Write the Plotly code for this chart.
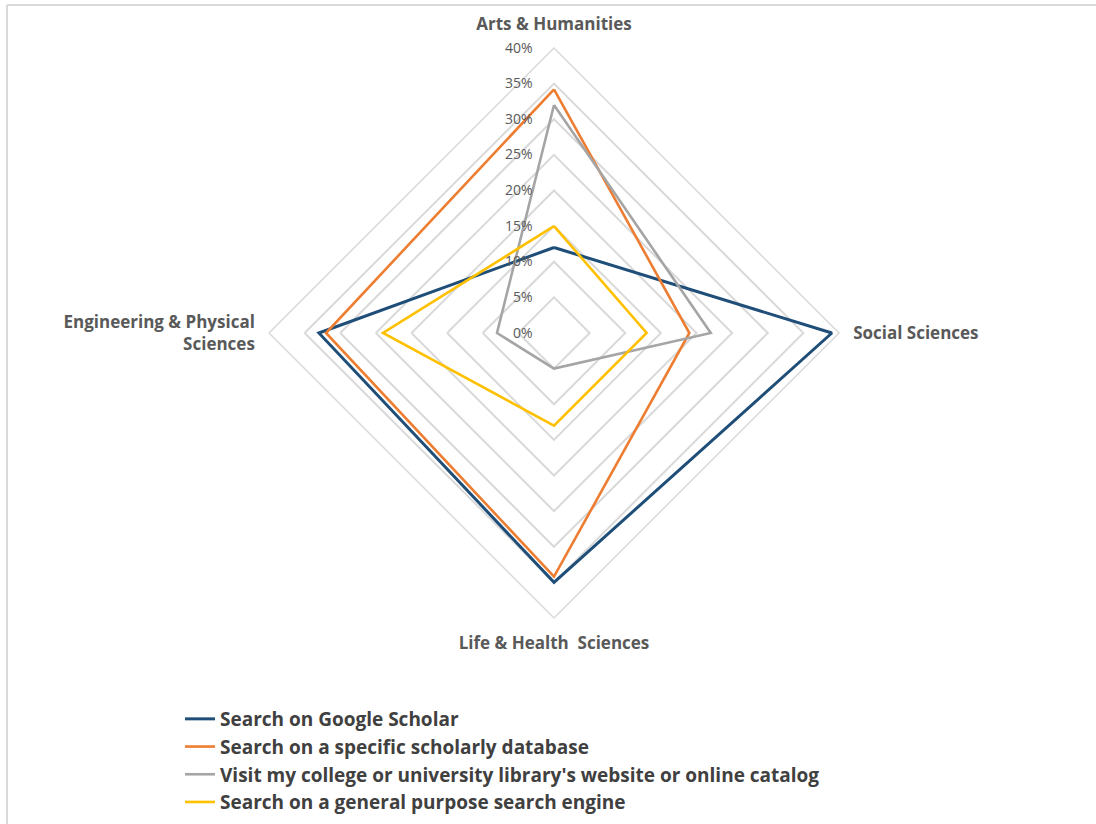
import plotly.graph_objects as go

# Disciplines around the radar, clockwise from the top
disciplines = [
    "Arts & Humanities",
    "Social Sciences",
    "Life & Health  Sciences",
    "Engineering & Physical<br>Sciences",
]

# Share of respondents per discipline (fractions)
google_scholar = [0.12, 0.39, 0.35, 0.33]
scholarly_database = [0.342, 0.19, 0.342, 0.32]
library_website = [0.32, 0.22, 0.05, 0.08]
general_search_engine = [0.15, 0.13, 0.13, 0.24]

series_names = [
    "Search on Google Scholar",
    "Search on a specific scholarly database",
    "Visit my college or university library's website or online catalog",
    "Search on a general purpose search engine",
]

radial_ticks = [0, 0.05, 0.10, 0.15, 0.20, 0.25, 0.30, 0.35, 0.40]
radial_tick_labels = ["0%", "5%", "10%", "15%", "20%", "25%", "30%", "35%", "40%"]

colors = ["#1f4e79", "#ed7d31", "#a5a5a5", "#ffc000"]
widths = [3, 2.6, 2.6, 2.6]

fig = go.Figure()
for i, (name, vals, col, w) in enumerate(zip(
    series_names,
    [google_scholar, scholarly_database, library_website, general_search_engine],
    colors,
    widths,
)):
    fig.add_trace(
        go.Scatterpolar(
            r=vals + vals[:1],
            theta=disciplines + disciplines[:1],
            mode="lines",
            name=name,
            legendgroup=f"g{i}",
            line=dict(color=col, width=w),
        )
    )

W, H = 1096, 824
cx, cy, rad = 554, 333, 285
FONT = "Open Sans"

fig.update_layout(
    width=W,
    height=H,
    margin=dict(l=0, r=0, t=0, b=0),
    paper_bgcolor="white",
    plot_bgcolor="white",
    font=dict(family=FONT, color="#595959"),
    polar=dict(
        domain=dict(
            x=[(cx - rad) / W, (cx + rad) / W],
            y=[(H - cy - rad) / H, (H - cy + rad) / H],
        ),
        gridshape="linear",
        bgcolor="white",
        radialaxis=dict(
            range=[0, 0.4],
            tickvals=radial_ticks,
            ticktext=radial_tick_labels,
            angle=90,
            tickangle=90,
            side="counterclockwise",
            showline=False,
            ticks="outside",
            ticklen=16,
            tickcolor="rgba(0,0,0,0)",
            gridcolor="#d9d9d9",
            gridwidth=1.5,
            tickfont=dict(family=FONT, size=14, color="#595959"),
        ),
        angularaxis=dict(
            direction="clockwise",
            rotation=90,
            showgrid=False,
            showline=True,
            linecolor="#d9d9d9",
            linewidth=1.5,
            ticks="outside",
            ticklen=10,
            tickcolor="rgba(0,0,0,0)",
            tickfont=dict(family=FONT, size=17, color="#595959", weight=700),
        ),
    ),
    legend=dict(
        x=180 / W,
        y=(H - 700) / H,
        xanchor="left",
        yanchor="top",
        orientation="v",
        tracegroupgap=0,
        font=dict(family=FONT, size=19, color="#404040", weight=700),
        itemwidth=30,
        bgcolor="rgba(0,0,0,0)",
    ),
    showlegend=True,
)

# Chart frame along the top and left edges
fig.add_shape(type="line", xref="paper", yref="paper",
              x0=7 / W, x1=1, y0=(H - 5) / H, y1=(H - 5) / H,
              line=dict(color="#d9d9d9", width=2))
fig.add_shape(type="line", xref="paper", yref="paper",
              x0=7 / W, x1=7 / W, y0=0, y1=(H - 5) / H,
              line=dict(color="#d9d9d9", width=2))

fig.write_html("out.html")
